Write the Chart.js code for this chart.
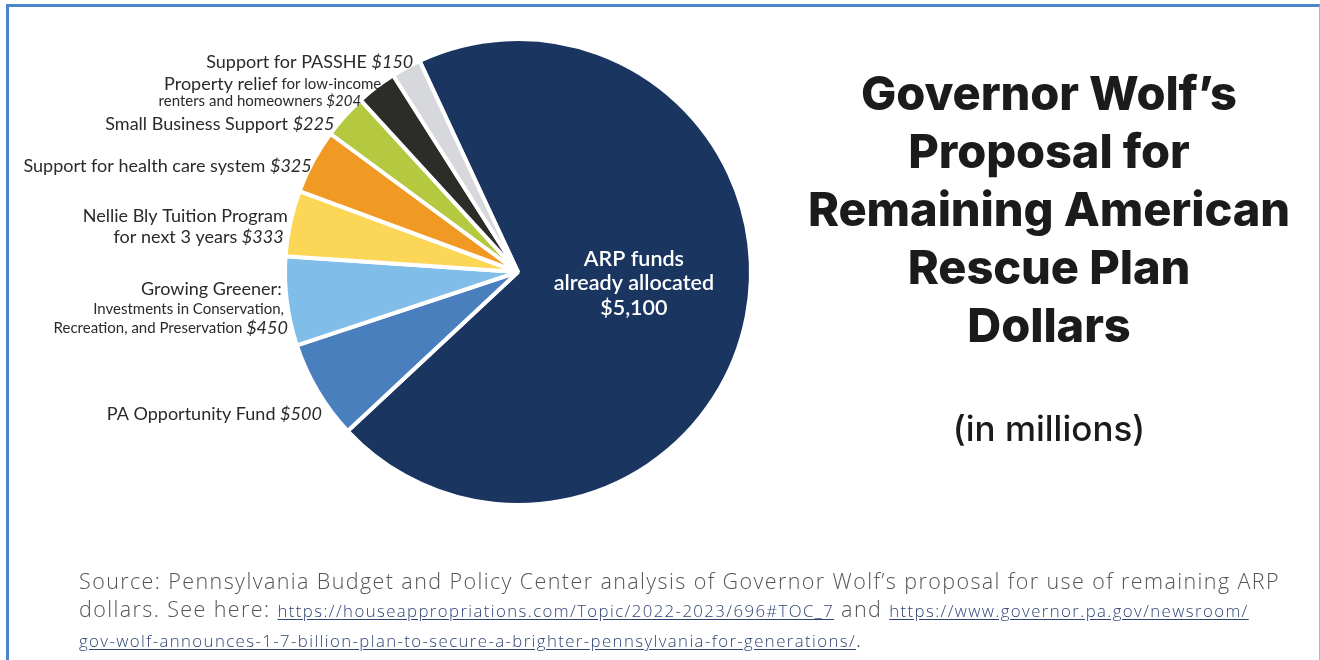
<!DOCTYPE html>
<html>
<head>
<meta charset="utf-8">
<title>Governor Wolf’s Proposal for Remaining American Rescue Plan Dollars</title>
<script src="https://cdn.jsdelivr.net/npm/chart.js@4"></script>
<style>
  html, body { margin: 0; padding: 0; background: #fff; }
  body { width: 1320px; height: 660px; position: relative; overflow: hidden; font-family: Lato, "Noto Sans", sans-serif; }
  .frame { position: absolute; left: 6px; top: 4px; width: 1314px; height: 720px; box-sizing: border-box;
           border-left: 3px solid #4a86c8; border-top: 3px solid #4a86c8; border-right: 1px solid #9dbbdc; }
  #pie { position: absolute; left: 0; top: 0; }
  .title { position: absolute; left: 760px; width: 578px; top: 64px; text-align: center; font-family: Inter, Lato, sans-serif;
           font-weight: 800; font-size: 47px; line-height: 58px; color: #1b1b1b; letter-spacing: -0.1px; }
  .units { position: absolute; left: 760px; width: 578px; top: 410px; text-align: center; font-family: Inter, Lato, sans-serif;
           font-weight: 500; font-size: 35px; line-height: 36px; color: #1b1b1b; }
  .source { position: absolute; left: 79px; top: 567px; font-family: "Open Sans", sans-serif; font-weight: 300;
            font-size: 21.5px; line-height: 28px; letter-spacing: 1.4px; color: #555; white-space: nowrap; }
  .source a { font-size: 16.8px; line-height: 28px; color: #2f4475; text-decoration: underline; text-underline-offset: 2px; }
</style>
</head>
<body>
<div class="frame"></div>
<canvas id="pie" width="1320" height="660"></canvas>
<div class="title">Governor Wolf’s<br>Proposal for<br>Remaining American<br>Rescue Plan<br>Dollars</div>
<div class="units">(in millions)</div>
<div class="source">Source: Pennsylvania Budget and Policy Center analysis of Governor Wolf’s proposal for use of remaining ARP<br>dollars. See here: <a>https://houseappropriations.com/Topic/2022-2023/696#TOC_7</a> and <a>https://www.governor.pa.gov/newsroom/</a><br><a>gov-wolf-announces-1-7-billion-plan-to-secure-a-brighter-pennsylvania-for-generations/</a>.</div>

<script>
// Uses of ARP money, in millions of dollars (clockwise from the top)
const categories = [
  "ARP funds already allocated",
  "PA Opportunity Fund",
  "Growing Greener",
  "Nellie Bly Tuition Program",
  "Support for health care system",
  "Small Business Support",
  "Property relief",
  "Support for PASSHE"
];
const amounts = [5100, 500, 450, 333, 325, 225, 204, 150];
const sliceColors = ["#1b3561", "#4a7fbe", "#80bde8", "#fcd757", "#f09a23", "#b4c940", "#2c2d29", "#d7d8dc"];

const money = v => "$" + v.toLocaleString("en-US");

// Text runs for each outside label: [text, style], style = b (base), bi (base italic), s (small), si (small italic)
function labelRuns(i) {
  const v = money(amounts[i]);
  switch (i) {
    case 1: return [[["PA Opportunity Fund ", "b"], [v, "bi"]]];
    case 2: return [[["Growing Greener:", "b"]], [["Investments in Conservation,", "s"]], [["Recreation, and Preservation ", "s"], [v, "bi"]]];
    case 3: return [[["Nellie Bly Tuition Program", "b"]], [["for next 3 years ", "b"], [v, "bi"]]];
    case 4: return [[["Support for health care system ", "b"], [v, "bi"]]];
    case 5: return [[["Small Business Support ", "b"], [v, "bi"]]];
    case 6: return [[["Property relief", "b"], [" for low-income", "s"]], [["renters and homeowners ", "s"], [v, "si"]]];
    case 7: return [[["Support for PASSHE ", "b"], [v, "bi"]]];
  }
  return [];
}
const runFonts = {
  b: "400 18px Lato, 'Noto Sans', sans-serif",
  bi: "italic 400 18px Lato, 'Noto Sans', sans-serif",
  s: "400 15px Lato, 'Noto Sans', sans-serif",
  si: "italic 400 15px Lato, 'Noto Sans', sans-serif"
};
// vertical shift from the slice's mid-angle rim point, gap to the rim, line spacing
const labelLayout = [null,
  { dy: 24, gap: 13, lh: 20 },
  { dy: 7.5, gap: 5, lh: 19.5 },
  { dy: 3.5, gap: 5, lh: 21 },
  { dy: 4, gap: 0, lh: 20 },
  { dy: 7, gap: 5, lh: 20 },
  { dy: 5, gap: 0, lh: 16.5 },
  { dy: -6, gap: 5, lh: 20 }
];

const sliceLabels = {
  id: "sliceLabels",
  afterDatasetsDraw(chart) {
    const ctx = chart.ctx;
    const arcs = chart.getDatasetMeta(0).data;
    ctx.save();
    arcs.forEach((arc, i) => {
      const { x, y, startAngle, endAngle, outerRadius } = arc.getProps(["x", "y", "startAngle", "endAngle", "outerRadius"], true);
      const mid = (startAngle + endAngle) / 2;
      const R = outerRadius - 1;
      if (i === 0) {
        const cx = x + Math.cos(mid) * R * 0.5 + 2;
        const cy = y + Math.sin(mid) * R * 0.5 - 11;
        const lines = ["ARP funds", "already allocated", money(amounts[0])];
        ctx.fillStyle = "#ffffff";
        ctx.font = "600 21.5px Lato, 'Noto Sans', sans-serif";
        ctx.textAlign = "center";
        ctx.textBaseline = "middle";
        lines.forEach((t, k) => ctx.fillText(t, cx, cy + (k - 1) * 24.5));
        return;
      }
      const lay = labelLayout[i];
      const lines = labelRuns(i);
      const blockY = y + Math.sin(mid) * R + lay.dy;
      ctx.fillStyle = "#2a2a2a";
      ctx.textAlign = "left";
      ctx.textBaseline = "middle";
      lines.forEach((runs, k) => {
        const ly = blockY + (k - (lines.length - 1) / 2) * lay.lh;
        const d = Math.max(-R, Math.min(R, ly - y));
        const rightX = x - Math.sqrt(R * R - d * d) - lay.gap;
        let w = 0;
        runs.forEach(([t, s]) => { ctx.font = runFonts[s]; w += ctx.measureText(t).width; });
        let px = rightX - w;
        runs.forEach(([t, s]) => { ctx.font = runFonts[s]; ctx.fillText(t, px, ly); px += ctx.measureText(t).width; });
      });
    });
    ctx.restore();
  }
};

new Chart(document.getElementById("pie"), {
  type: "pie",
  data: {
    labels: categories,
    datasets: [{
      data: amounts,
      backgroundColor: sliceColors,
      borderColor: "#ffffff",
      borderWidth: 4,
      hoverOffset: 0
    }]
  },
  options: {
    responsive: false,
    animation: false,
    devicePixelRatio: 1,
    rotation: -25,
    layout: { padding: { left: 283, right: 567, top: 37, bottom: 153 } },
    plugins: { legend: { display: false }, tooltip: { enabled: false } },
    events: []
  },
  plugins: [sliceLabels]
});
</script>
</body>
</html>
